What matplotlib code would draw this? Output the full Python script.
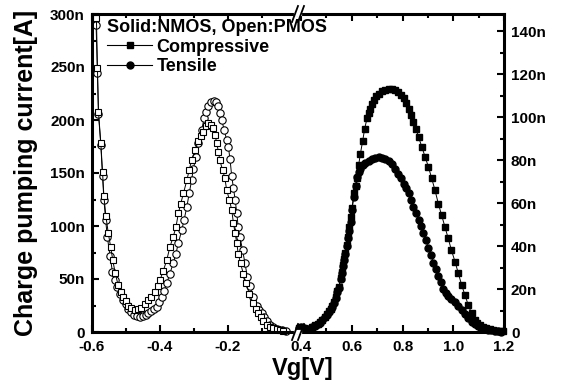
import matplotlib.pyplot as plt
from matplotlib.lines import Line2D
from matplotlib.ticker import FuncFormatter, MultipleLocator, FixedLocator

plt.rcParams['font.family'] = ['Liberation Sans', 'DejaVu Sans']
plt.rcParams['font.weight'] = 'bold'
plt.rcParams['axes.unicode_minus'] = False

# PMOS, open symbols, left axis [nA]
pmos_comp_v = [-0.587, -0.584, -0.581, -0.574, -0.569, -0.565, -0.559, -0.552, -0.545, -0.539,
               -0.532, -0.523, -0.515, -0.508, -0.500, -0.493, -0.484, -0.474, -0.465, -0.455,
               -0.445, -0.434, -0.425, -0.415, -0.407, -0.400, -0.390, -0.380, -0.371, -0.361,
               -0.353, -0.346, -0.339, -0.331, -0.321, -0.314, -0.307, -0.297, -0.287, -0.280,
               -0.273, -0.265, -0.258, -0.250, -0.243, -0.238, -0.233, -0.228, -0.224, -0.216,
               -0.209, -0.204, -0.196, -0.189, -0.184, -0.179, -0.174, -0.170, -0.163, -0.155,
               -0.147, -0.137, -0.126, -0.118, -0.111, -0.103, -0.096, -0.086, -0.076, -0.067,
               -0.057, -0.047, -0.037]
pmos_comp_i = [296, 249, 208, 178, 151, 128, 109, 93, 80, 68,
               56, 44, 38, 33, 29, 25, 23, 21, 22, 23,
               26, 30, 33, 38, 43, 49, 58, 68, 80, 90,
               99, 112, 121, 131, 143, 153, 162, 172, 180, 185,
               189, 194, 197, 195, 192, 186, 178, 170, 162, 153,
               145, 134, 125, 115, 103, 93, 84, 74, 65, 55,
               46, 36, 27, 22, 18, 14, 10, 7, 5, 3.5,
               2.5, 1.5, 1]
pmos_tens_v = [-0.588, -0.584, -0.581, -0.574, -0.569, -0.565, -0.560, -0.555, -0.547, -0.540,
               -0.532, -0.525, -0.518, -0.508, -0.500, -0.493, -0.484, -0.475, -0.468, -0.459,
               -0.450, -0.442, -0.434, -0.425, -0.418, -0.410, -0.403, -0.395, -0.388, -0.380,
               -0.371, -0.361, -0.353, -0.346, -0.336, -0.329, -0.321, -0.314, -0.307, -0.302,
               -0.294, -0.287, -0.277, -0.270, -0.264, -0.258, -0.250, -0.241, -0.235, -0.229,
               -0.224, -0.219, -0.211, -0.204, -0.199, -0.194, -0.189, -0.184, -0.179, -0.174,
               -0.170, -0.165, -0.157, -0.150, -0.143, -0.135, -0.126, -0.116, -0.108, -0.101,
               -0.094, -0.086, -0.076, -0.067, -0.057, -0.042, -0.030]
pmos_tens_i = [290, 244, 206, 176, 147, 125, 106, 90, 72, 57,
               49, 42, 36, 30, 26, 22, 19, 16, 15, 14.5,
               15.5, 16.5, 17.6, 20, 22, 24, 28, 33, 39, 46,
               55, 65, 74, 84, 96, 106, 118, 131, 143, 154,
               165, 178, 191, 202, 208, 213, 217, 218, 217, 213,
               207, 200, 191, 181, 175, 163, 147, 136, 125, 112,
               99, 90, 77, 65, 52, 43, 33, 25, 21, 18,
               14, 10, 7, 5, 3, 2, 1]

# NMOS, solid symbols, right axis [nA]
nmos_comp_v = [0.390, 0.400, 0.410, 0.420, 0.430, 0.444, 0.455, 0.465, 0.475, 0.484,
               0.495, 0.503, 0.510, 0.517, 0.523, 0.530, 0.537, 0.543, 0.549, 0.556,
               0.562, 0.566, 0.571, 0.575, 0.580, 0.586, 0.590, 0.595, 0.601, 0.608,
               0.615, 0.621, 0.627, 0.634, 0.643, 0.651, 0.660, 0.666, 0.673, 0.680,
               0.686, 0.696, 0.706, 0.719, 0.732, 0.745, 0.758, 0.771, 0.784, 0.794,
               0.804, 0.814, 0.824, 0.833, 0.843, 0.853, 0.863, 0.876, 0.889, 0.902,
               0.915, 0.928, 0.941, 0.954, 0.967, 0.980, 0.993, 1.007, 1.020, 1.033,
               1.046, 1.059, 1.072, 1.085, 1.095, 1.105, 1.118, 1.131, 1.144, 1.157,
               1.170, 1.183, 1.196]
nmos_comp_i = [2.0, 2.5, 2.0, 1.5, 1.6, 2.5, 3.2, 3.8, 4.6, 5.6,
               7.0, 8.4, 9.6, 10.8, 12.0, 14.0, 16.5, 19.0, 21.0, 25.0,
               28.0, 31.0, 34.0, 37.0, 40.5, 44.0, 49.0, 53.5, 57.5, 64.5,
               68.0, 71.5, 77.7, 83.0, 89.0, 94.7, 99.4, 102.0, 104.0, 106.0,
               108.0, 109.8, 111.0, 112.0, 112.6, 113.0, 113.0, 112.6, 111.8, 110.5,
               108.7, 106.5, 104.0, 101.0, 97.8, 94.5, 90.8, 86.2, 81.5, 76.9,
               71.5, 66.0, 59.8, 54.4, 49.0, 43.6, 38.0, 32.7, 27.3, 21.9,
               17.2, 12.6, 8.7, 5.6, 4.2, 3.3, 2.4, 1.7, 1.2, 0.9,
               0.6, 0.4, 0.3]
nmos_tens_v = [0.390, 0.400, 0.410, 0.420, 0.432, 0.444, 0.455, 0.465, 0.475, 0.484,
               0.495, 0.503, 0.510, 0.517, 0.523, 0.530, 0.537, 0.543, 0.549, 0.556,
               0.562, 0.566, 0.571, 0.575, 0.580, 0.586, 0.590, 0.595, 0.601, 0.608,
               0.615, 0.621, 0.628, 0.634, 0.644, 0.654, 0.667, 0.680, 0.693, 0.706,
               0.719, 0.732, 0.745, 0.758, 0.771, 0.784, 0.794, 0.804, 0.814, 0.824,
               0.833, 0.843, 0.853, 0.863, 0.872, 0.882, 0.892, 0.902, 0.912, 0.922,
               0.932, 0.941, 0.951, 0.961, 0.970, 0.980, 0.993, 1.007, 1.020, 1.033,
               1.046, 1.059, 1.072, 1.085, 1.098, 1.111, 1.124, 1.137, 1.150, 1.163,
               1.176, 1.190]
nmos_tens_i = [1.8, 2.2, 1.8, 1.4, 1.5, 2.3, 3.0, 3.6, 4.4, 5.4,
               6.8, 8.0, 9.2, 10.5, 11.8, 13.6, 16.0, 18.6, 20.6, 24.5,
               27.5, 30.5, 33.5, 36.5, 40.0, 43.6, 47.0, 51.0, 57.0, 63.0,
               68.0, 72.0, 74.5, 76.0, 77.5, 78.5, 79.6, 80.3, 81.0, 81.4,
               81.2, 80.6, 79.5, 78.0, 76.0, 73.7, 71.5, 69.0, 66.8, 64.5,
               61.5, 58.4, 55.4, 52.3, 49.3, 46.1, 42.6, 39.2, 35.7, 32.3,
               29.2, 26.2, 23.4, 20.0, 18.0, 16.8, 15.2, 13.8, 12.2, 10.2,
               8.3, 6.3, 4.8, 3.5, 2.6, 2.0, 1.4, 0.9, 0.7, 0.5,
               0.35, 0.2]

W, H = 561, 385
fig = plt.figure(figsize=(W / 100, H / 100), dpi=100)


def fx(px):
    return px / W


def fy(py):
    return 1 - py / H


x0, xb, x1 = 92, 298, 504
y0, y1 = 14, 332
ax1 = fig.add_axes([fx(x0), fy(y1), fx(xb) - fx(x0), fy(y0) - fy(y1)])
ax2 = fig.add_axes([fx(xb), fy(y1), fx(x1) - fx(xb), fy(y0) - fy(y1)])

# open symbols (PMOS)
ax1.plot(pmos_tens_v, pmos_tens_i, '-o', color='black', lw=0.7, ms=5.3, mfc='white', mec='black', mew=0.8, clip_on=False)
ax1.plot(pmos_comp_v, pmos_comp_i, '-s', color='black', lw=0.7, ms=5.0, mfc='white', mec='black', mew=0.8, clip_on=False)
# solid symbols (NMOS)
ax2.plot(nmos_comp_v, nmos_comp_i, '-s', color='black', lw=0.7, ms=5.0, clip_on=False)
ax2.plot(nmos_tens_v, nmos_tens_i, '-o', color='black', lw=0.7, ms=5.0, clip_on=False)

xfmt = FuncFormatter(lambda v, p: f'{v:.1f}')
yfmt = FuncFormatter(lambda v, p: '0' if v == 0 else f'{v:.0f}n')

for ax in (ax1, ax2):
    ax.tick_params(which='both', direction='in', top=True, width=1.5, labelsize=11)
    ax.tick_params(axis='x', which='both', pad=6)
    ax.tick_params(which='major', length=5)
    ax.tick_params(which='minor', length=3)
    ax.xaxis.set_major_formatter(xfmt)
    ax.yaxis.set_major_formatter(yfmt)
    for s in ax.spines.values():
        s.set_linewidth(2.2)

ax1.set_xlim(-0.6, 0.006)
ax1.xaxis.set_major_locator(FixedLocator([-0.6, -0.4, -0.2]))
ax1.xaxis.set_minor_locator(FixedLocator([-0.5, -0.3, -0.1]))
ax1.set_ylim(0, 300)
ax1.yaxis.set_major_locator(MultipleLocator(50))
ax1.yaxis.set_minor_locator(MultipleLocator(25))
ax1.tick_params(axis='y', which='both', right=False, pad=5)
ax1.spines['right'].set_visible(False)

ax2.set_xlim(0.388, 1.2)
ax2.xaxis.set_major_locator(FixedLocator([0.4, 0.6, 0.8, 1.0, 1.2]))
ax2.xaxis.set_minor_locator(FixedLocator([0.5, 0.7, 0.9, 1.1]))
ax2.set_ylim(0, 148)
ax2.yaxis.set_major_locator(MultipleLocator(20))
ax2.yaxis.set_minor_locator(MultipleLocator(10))
ax2.tick_params(axis='y', which='both', left=False, labelleft=False, right=True, labelright=True, pad=5)
ax2.spines['left'].set_visible(False)

# axis break marks
for yy in (y0, y1):
    fig.add_artist(Line2D([fx(xb - 2), fx(xb + 2)], [fy(yy), fy(yy)], color='white', lw=3,
                          transform=fig.transFigure))
    for dx in (-3, 3):
        fig.add_artist(Line2D([fx(xb + dx - 3), fx(xb + dx + 3)], [fy(yy + 8), fy(yy - 8)],
                              color='black', lw=1.3, transform=fig.transFigure))

fig.text(fx(26), fy(173), 'Charge pumping current[A]', rotation=90, ha='center', va='center',
         fontsize=18, fontweight='bold')
fig.text(fx(303), fy(369), 'Vg[V]', ha='center', va='center', fontsize=17, fontweight='bold')

hc = Line2D([], [], color='black', lw=0.8, marker='s', ms=5)
ht = Line2D([], [], color='black', lw=0.8, marker='o', ms=5)
fig.legend([hc, ht], ['Compressive', 'Tensile'], title='Solid:NMOS, Open:PMOS',
           loc='upper left', bbox_to_anchor=(fx(107), fy(19)), frameon=False, fontsize=13,
           title_fontproperties={'weight': 'bold', 'size': 13}, alignment='left',
           handlelength=2.5, handletextpad=0.25, borderpad=0, borderaxespad=0, labelspacing=0.15)

fig.savefig('out.png', dpi=100)
